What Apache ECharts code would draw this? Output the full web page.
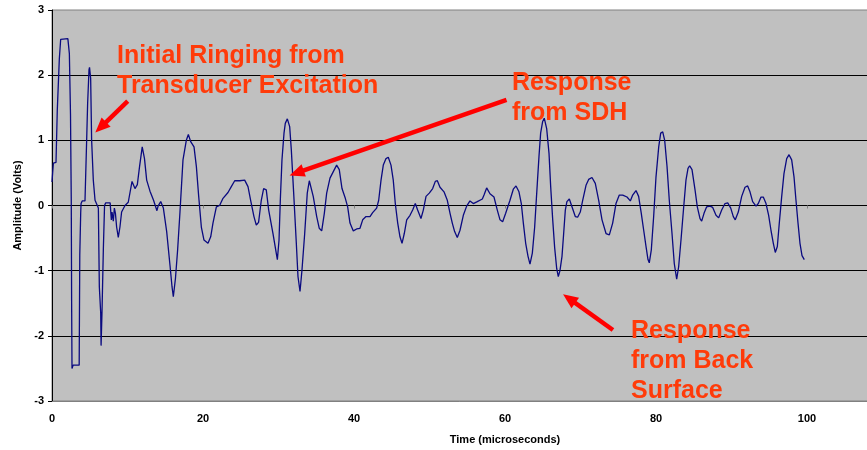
<!DOCTYPE html>
<html>
<head>
<meta charset="utf-8">
<script src="https://cdn.jsdelivr.net/npm/echarts@6/dist/echarts.min.js"></script>
<style>
html,body{margin:0;padding:0;background:#fff;}
#chart{width:867px;height:450px;}
</style>
</head>
<body>
<div id="chart"></div>
<script>
// ---- data (time in microseconds, amplitude in volts) ----
const timeUs = [0.0,0.18,0.53,0.7,0.97,1.15,1.4,2.1,2.3,2.45,2.55,2.6,2.65,2.8,3.6,3.68,3.8,3.85,4.0,4.37,4.59,4.72,4.9,4.97,5.12,5.25,5.47,5.7,6.0,6.14,6.27,6.45,6.5,6.62,6.8,6.96,7.1,7.7,7.86,7.95,8.12,8.26,8.4,8.56,8.78,9.0,9.22,9.67,10.1,10.33,10.6,10.99,11.3,11.6,11.95,12.05,12.25,12.54,12.98,13.45,13.9,14.05,14.4,14.75,15.19,15.63,15.9,16.07,16.35,16.64,16.95,17.04,17.35,17.79,18.06,18.37,18.81,19.12,19.43,19.78,20.13,20.66,21.02,21.32,21.77,22.2,22.65,23.31,23.75,24.2,24.86,25.52,25.96,26.31,26.75,27.06,27.36,27.72,28.03,28.38,28.7,29.27,29.63,29.85,30.07,30.24,30.46,30.73,30.9,31.17,31.48,31.7,32.01,32.36,32.58,32.85,33.11,33.47,33.81,34.08,34.3,34.6,35.06,35.4,35.72,36.07,36.38,36.82,37.26,37.7,38.05,38.41,38.85,39.16,39.47,39.91,40.35,40.79,41.15,41.59,42.12,42.47,43.0,43.27,43.58,43.88,44.24,44.54,44.9,45.2,45.47,45.79,46.09,46.36,46.66,46.98,47.42,47.77,48.12,48.43,48.87,49.18,49.54,49.97,50.42,50.77,51.04,51.39,51.92,52.36,52.72,53.02,53.33,53.68,54.04,54.48,54.92,55.36,55.8,56.33,57.0,57.22,57.57,58.01,58.54,58.98,59.34,59.69,60.09,60.66,61.1,61.46,61.85,62.16,62.43,62.74,63.05,63.31,63.62,63.93,64.2,64.5,64.72,64.99,65.2,65.52,65.83,66.05,66.32,66.58,66.85,67.06,67.28,67.55,67.77,67.99,68.2,68.52,68.87,69.31,69.62,69.97,70.29,70.73,71.08,71.52,71.96,72.41,72.85,73.38,73.82,74.26,74.7,75.14,75.59,76.16,76.6,76.91,77.35,77.7,78.05,78.37,78.68,78.94,79.11,79.38,79.69,80.0,80.36,80.62,80.89,81.15,81.46,81.76,82.12,82.42,82.74,83.0,83.31,83.67,83.97,84.24,84.46,84.77,85.17,85.47,85.83,86.05,86.36,86.71,87.15,87.51,87.95,88.3,88.7,89.14,89.5,89.9,90.24,90.5,90.9,91.35,91.79,92.14,92.45,92.8,93.25,93.55,93.91,94.21,94.57,94.92,95.23,95.54,95.8,96.07,96.33,96.65,96.95,97.31,97.62,97.97,98.28,98.54,98.81,99.07,99.34,99.64];
const amplitudeV = [0.36,0.65,0.66,1.46,2.25,2.55,2.57,2.56,2.33,1.4,0.1,-1.5,-2.5,-2.45,-2.45,-0.75,-0.12,0.03,0.07,0.07,1.0,1.57,2.08,2.12,1.95,1.0,0.39,0.08,0.0,-0.04,-1.25,-1.65,-2.15,-1.65,-0.68,0.0,0.04,0.04,-0.22,-0.1,-0.24,-0.04,-0.12,-0.33,-0.49,-0.33,-0.1,0.0,0.05,0.08,0.37,0.26,0.32,0.6,0.9,0.91,0.72,0.39,0.22,0.08,-0.08,-0.01,0.06,-0.04,-0.4,-0.92,-1.25,-1.4,-1.12,-0.68,-0.1,0.08,0.7,1.0,1.09,0.98,0.9,0.6,0.14,-0.33,-0.53,-0.58,-0.48,-0.27,-0.02,0.0,0.11,0.2,0.29,0.38,0.38,0.39,0.29,0.08,-0.17,-0.3,-0.26,0.08,0.26,0.24,-0.07,-0.43,-0.68,-0.83,-0.53,0.08,0.7,1.11,1.26,1.33,1.21,0.85,0.19,-0.58,-1.09,-1.32,-0.99,-0.43,0.19,0.38,0.39,0.14,-0.17,-0.35,-0.39,-0.12,0.19,0.42,0.52,0.62,0.55,0.26,0.11,-0.02,-0.27,-0.39,-0.36,-0.35,-0.22,-0.17,-0.17,-0.11,-0.04,0.08,0.39,0.62,0.72,0.74,0.62,0.39,0.03,-0.27,-0.48,-0.58,-0.43,-0.22,-0.15,-0.07,0.03,-0.07,-0.2,-0.07,0.14,0.19,0.26,0.37,0.38,0.28,0.21,0.08,-0.12,-0.27,-0.4,-0.49,-0.38,-0.15,-0.01,0.07,0.03,0.06,0.1,0.16,0.27,0.18,0.13,-0.07,-0.22,-0.25,-0.12,0.08,0.25,0.3,0.21,0.03,-0.27,-0.58,-0.78,-0.9,-0.73,-0.33,0.19,0.75,1.11,1.29,1.34,1.18,0.8,0.29,-0.22,-0.65,-0.97,-1.09,-1.0,-0.78,-0.43,-0.07,0.06,0.1,-0.02,-0.17,-0.18,-0.1,0.08,0.31,0.4,0.43,0.34,0.08,-0.22,-0.43,-0.45,-0.27,0.03,0.16,0.16,0.13,0.07,0.16,0.23,0.14,-0.12,-0.38,-0.63,-0.83,-0.88,-0.68,-0.17,0.44,0.9,1.11,1.13,1.0,0.6,0.08,-0.43,-0.89,-1.13,-0.94,-0.53,-0.02,0.39,0.57,0.61,0.55,0.24,-0.02,-0.2,-0.24,-0.12,-0.02,-0.01,-0.03,-0.15,-0.19,-0.07,0.03,0.04,-0.04,-0.17,-0.22,-0.1,0.14,0.28,0.3,0.21,0.06,-0.01,0.03,0.13,0.13,0.03,-0.15,-0.38,-0.58,-0.72,-0.63,-0.27,0.14,0.49,0.72,0.78,0.7,0.44,0.08,-0.27,-0.58,-0.77,-0.83];

const xTicks = [0, 20, 40, 60, 80, 100, 120];
const yTicks = [-3, -2, -1, 0, 1, 2, 3];
const xTitle = 'Time (microseconds)';
const yTitle = 'Amplitude (Volts)';

// annotation arrows (tail -> head) in data units
const arrowTails = [[10.03, 1.60], [60.2, 1.62], [74.3, -1.91]];
const arrowHeads = [[6.45, 1.20], [32.4, 0.50], [68.5, -1.43]];
const notes = [
  ['Initial Ringing from', 'Transducer Excitation'],
  ['Response', 'from SDH'],
  ['Response', 'from Back', 'Surface']
];

const FONT = '"Liberation Sans", Arial, sans-serif';
const pairs = timeUs.map((t, i) => [t, amplitudeV[i]]);

const chart = echarts.init(document.getElementById('chart'), null, {renderer: 'canvas'});

const noteGraphics = [];
const notePos = [[117, 56], [512, 83.5], [631, 331.5]];
notes.forEach((lines, k) => {
  lines.forEach((txt, j) => {
    noteGraphics.push({
      type: 'text', left: notePos[k][0], top: notePos[k][1] + j * 30 - 12.5, z: 100,
      style: {text: txt, fill: '#FF3B0A', font: 'bold 25px ' + FONT}
    });
  });
});

chart.setOption({
  animation: false,
  backgroundColor: '#ffffff',
  grid: {left: 52, right: -91, top: 10, bottom: 49, outerBoundsMode: 'none', containLabel: false,
         show: true, backgroundColor: '#C0C0C0', borderColor: '#808080', borderWidth: 1},
  xAxis: [{
    type: 'value', min: xTicks[0], max: xTicks[xTicks.length - 1], interval: 20,
    position: 'bottom',
    name: xTitle, nameLocation: 'middle', nameGap: 33,
    nameTextStyle: {fontFamily: FONT, fontWeight: 'bold', fontSize: 11, color: '#000'},
    axisLine: {show: true, onZero: false, lineStyle: {color: '#808080', width: 1}},
    axisTick: {show: false},
    axisLabel: {fontFamily: FONT, fontWeight: 'bold', fontSize: 11, color: '#000', margin: 12},
    splitLine: {show: false}
  }, {
    type: 'value', min: xTicks[0], max: xTicks[xTicks.length - 1], interval: 20,
    position: 'bottom',
    axisLine: {show: true, onZero: true, lineStyle: {color: '#000', width: 1}},
    axisTick: {show: true, inside: false, length: 3, lineStyle: {color: '#808080'}},
    axisLabel: {show: false},
    splitLine: {show: false}
  }],
  yAxis: {
    type: 'value', min: yTicks[0], max: yTicks[yTicks.length - 1], interval: 1,
    name: yTitle, nameLocation: 'middle', nameGap: 28,
    nameTextStyle: {fontFamily: FONT, fontWeight: 'bold', fontSize: 11, color: '#000'},
    axisLine: {show: true, lineStyle: {color: '#000', width: 1}},
    axisTick: {show: true, length: 4, lineStyle: {color: '#000'}},
    axisLabel: {fontFamily: FONT, fontWeight: 'bold', fontSize: 11, color: '#000', margin: 8},
    splitLine: {show: true, showMinLine: false, showMaxLine: false, lineStyle: {color: '#000', width: 1}}
  },
  series: [{
    type: 'line', xAxisIndex: 0, data: pairs, showSymbol: false, symbol: 'none',
    lineStyle: {color: '#0A0A80', width: 1.3}, silent: true,
    markLine: {
      silent: true, animation: false,
      symbol: ['none', 'triangle'], symbolSize: [13, 15],
      label: {show: false},
      lineStyle: {color: '#FF0000', width: 4.5, type: 'solid'},
      emphasis: {disabled: true},
      data: arrowTails.map((t, i) => [{coord: t}, {coord: arrowHeads[i]}])
    }
  }],
  graphic: noteGraphics
});
</script>
</body>
</html>
